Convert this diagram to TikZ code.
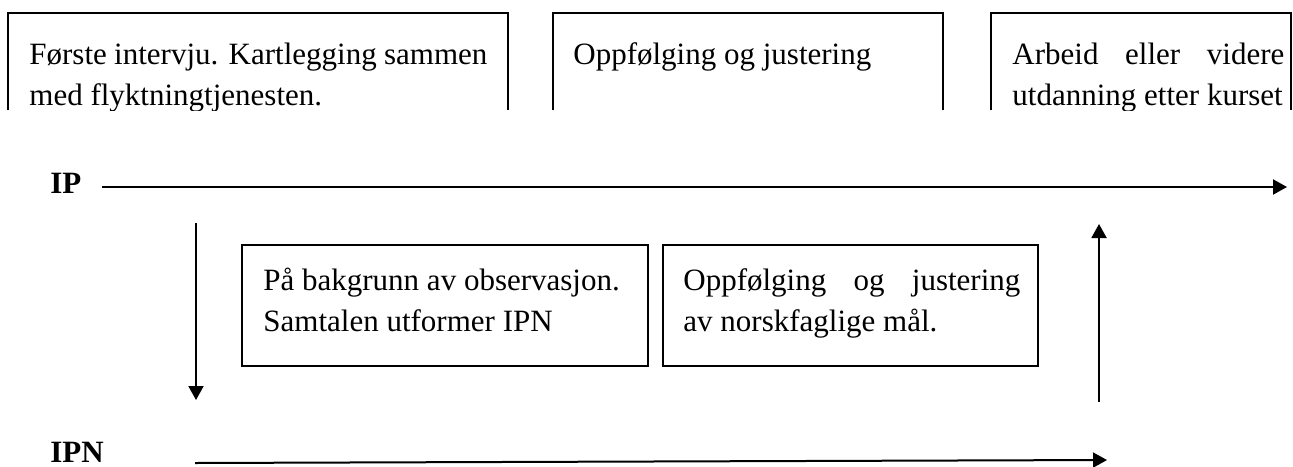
\documentclass[tikz,border=0pt]{standalone}
\usepackage{fontspec}
\setmainfont{Liberation Serif}
\usetikzlibrary{arrows.meta}

\newcommand{\spreadline}[2]{\makebox[#1][s]{#2}}

\tikzset{
  boxline/.style={line width=0.75pt},
  boxtext/.style={anchor=north west, inner sep=0pt, align=left, font=\fontsize{15.5}{20.5}\selectfont},
  tagtext/.style={anchor=base west, inner sep=0pt, font=\fontsize{15.5}{20.5}\selectfont\bfseries},
  flow/.style={line width=1pt, -{Triangle[length=7pt,width=7.5pt]}}
}

\begin{document}
\begin{tikzpicture}[x=0.5pt,y=-0.5pt]
\useasboundingbox (0,0) rectangle (1293,466);

% top row, cut off at the bottom
\begin{scope}
\clip (0,0) rectangle (1293,110);
\draw[boxline] (8,110) -- (8,13) -- (508,13) -- (508,110);
\draw[boxline] (553,110) -- (553,13) -- (943,13) -- (943,110);
\draw[boxline] (991,110) -- (991,13) -- (1291,13) -- (1291,110);
\node[boxtext] (kartlegging) at (29,35.5) {\strut\spreadline{229pt}{Første intervju. Kartlegging sammen}\\\strut med flyktningtjenesten.};
\node[boxtext] (oppfolging) at (573,35.5) {\strut Oppfølging og justering};
\node[boxtext] (arbeid) at (1012,35.5) {\strut\spreadline{136pt}{Arbeid eller videre}\\\strut utdanning etter kurset};
\end{scope}

% IP line
\node[tagtext] (ip) at (50,193) {IP};
\coordinate (ipstart) at (102,187);
\coordinate (ipend) at (1287,187);
\draw[flow] (ipstart) -- (ipend);

% down and up
\coordinate (downtop) at (196,223);
\coordinate (downtip) at (196,400);
\draw[flow] (downtop) -- (downtip);
\coordinate (upfoot) at (1099,402);
\coordinate (uptip) at (1099,224);
\draw[flow] (upfoot) -- (uptip);

% middle row
\draw[boxline] (242,245) rectangle (648,366);
\node[boxtext] (observasjon) at (263,261.3) {\strut På bakgrunn av observasjon.\\\strut Samtalen utformer IPN};
\draw[boxline] (663,245) rectangle (1038,366);
\node[boxtext] (norskmaal) at (683,261.3) {\strut\spreadline{168.5pt}{Oppfølging og justering}\\\strut av norskfaglige mål.};

% IPN line
\node[tagtext] (ipn) at (50,462) {IPN};
\coordinate (ipnstart) at (195,463);
\coordinate (ipnend) at (1107,460);
\draw[flow] (ipnstart) -- (ipnend);

\end{tikzpicture}
\end{document}
